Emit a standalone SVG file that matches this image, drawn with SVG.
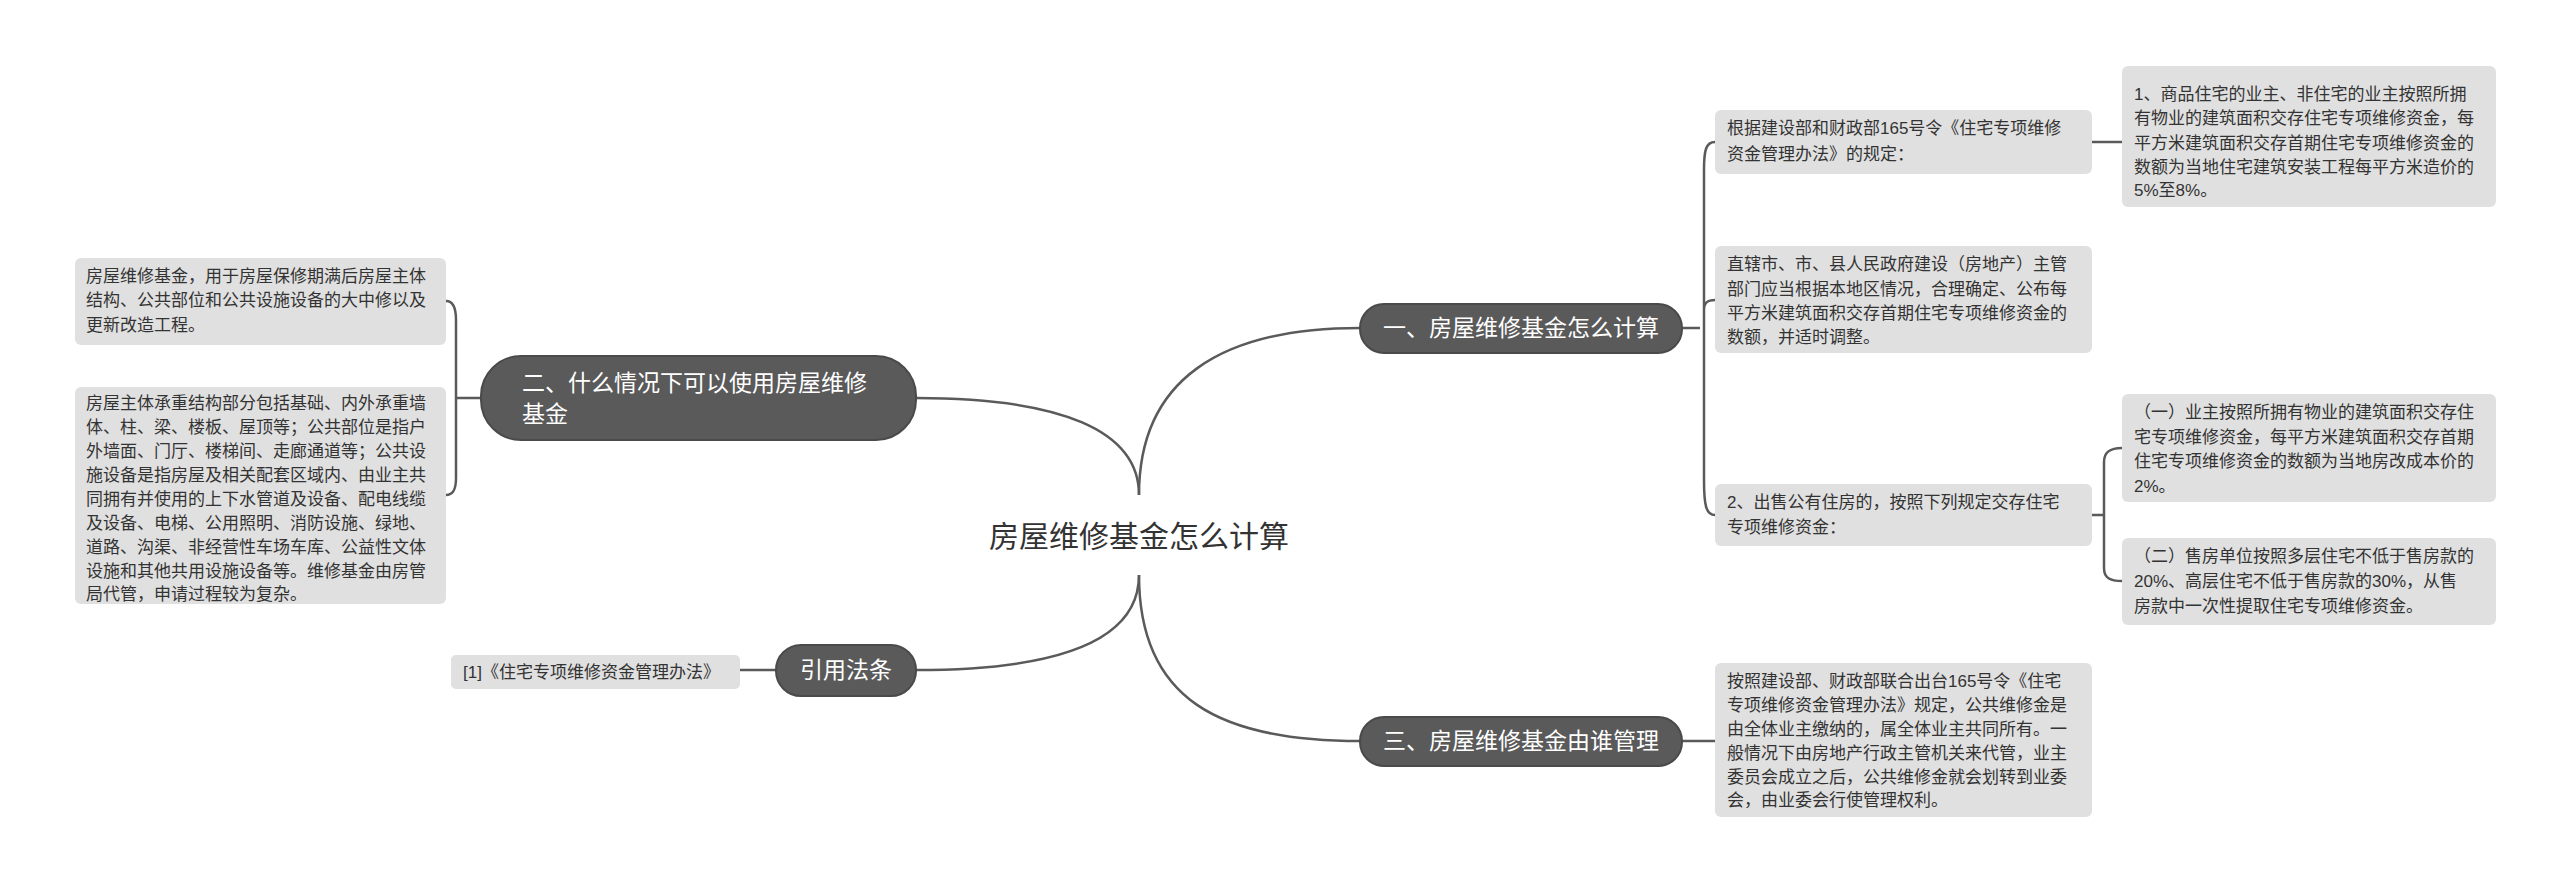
<svg xmlns="http://www.w3.org/2000/svg" width="2560" height="889" viewBox="0 0 2560 889">
<style>
text{font-family:"Liberation Sans","Noto Sans CJK SC",sans-serif;}
.leaf{fill:#e0e0e0;}
.lt{font-size:17px;fill:#333;}
.pill{fill:#5a5a5a;stroke:#4a4a4a;stroke-width:2;}
.pt{font-size:23px;fill:#fff;}
.c{fill:none;stroke:#5a5a5a;stroke-width:2.5;}
</style>
<rect width="2560" height="889" fill="#fff"/>
<g id="connectors">
<path class="c" d="M1139,495 C1139,380 1220,328 1360,328"/>
<path class="c" d="M1139,575 C1139,700 1220,741 1360,741"/>
<path class="c" d="M1139,495 C1139,430 1060,398 916,398"/>
<path class="c" d="M1139,575 C1139,640 1060,670 916,670"/>
<path class="c" d="M1682,328 L1700,328 M1715,142 C1706,142 1704,150 1704,170 L1704,480 C1704,505 1706,515 1715,515 M1704,310 C1704,302 1708,300 1715,300"/>
<path class="c" d="M2092,142 L2122,142"/>
<path class="c" d="M2092,515 L2104,515 M2122,448 C2110,448 2104,452 2104,462 L2104,568 C2104,578 2110,581 2122,581"/>
<path class="c" d="M1682,741 L1715,741"/>
<path class="c" d="M481,398 L456,398 M446,301 C453,301 456,308 456,320 L456,478 C456,490 453,495 446,495"/>
<path class="c" d="M776,670 L740,670"/>
</g>
<g id="root"><text x="1139" y="547" font-size="30" fill="#333" text-anchor="middle">房屋维修基金怎么计算</text></g>
<g id="b1"><rect class="pill" x="1360" y="304" width="322" height="49" rx="24"/><text class="pt" x="1521" y="336" text-anchor="middle">一、房屋维修基金怎么计算</text></g>
<g id="b3"><rect class="pill" x="1360" y="717" width="322" height="49" rx="24"/><text class="pt" x="1521" y="749" text-anchor="middle">三、房屋维修基金由谁管理</text></g>
<g id="b2"><rect class="pill" x="481" y="356" width="435" height="84" rx="40"/><text class="pt" x="522" y="391">二、什么情况下可以使用房屋维修</text><text class="pt" x="522" y="422">基金</text></g>
<g id="b4"><rect class="pill" x="776" y="645" width="140" height="51" rx="25"/><text class="pt" x="846" y="678" text-anchor="middle">引用法条</text></g>
<g id="n1"><rect class="leaf" x="1715" y="110" width="377" height="64" rx="6"/><text class="lt" x="1727"><tspan x="1727" y="134">根据建设部和财政部165号令《住宅专项维修</tspan><tspan x="1727" y="160">资金管理办法》的规定：</tspan></text></g>
<g id="n1a"><rect class="leaf" x="2122" y="66" width="374" height="141" rx="6"/><text class="lt"><tspan x="2134" y="100">1、商品住宅的业主、非住宅的业主按照所拥</tspan><tspan x="2134" y="124">有物业的建筑面积交存住宅专项维修资金，每</tspan><tspan x="2134" y="149">平方米建筑面积交存首期住宅专项维修资金的</tspan><tspan x="2134" y="173">数额为当地住宅建筑安装工程每平方米造价的</tspan><tspan x="2134" y="196">5%至8%。</tspan></text></g>
<g id="n2"><rect class="leaf" x="1715" y="246" width="377" height="107" rx="6"/><text class="lt"><tspan x="1727" y="270">直辖市、市、县人民政府建设（房地产）主管</tspan><tspan x="1727" y="295">部门应当根据本地区情况，合理确定、公布每</tspan><tspan x="1727" y="319">平方米建筑面积交存首期住宅专项维修资金的</tspan><tspan x="1727" y="343">数额，并适时调整。</tspan></text></g>
<g id="n3"><rect class="leaf" x="1715" y="484" width="377" height="62" rx="6"/><text class="lt"><tspan x="1727" y="508">2、出售公有住房的，按照下列规定交存住宅</tspan><tspan x="1727" y="533">专项维修资金：</tspan></text></g>
<g id="n3a"><rect class="leaf" x="2122" y="394" width="374" height="108" rx="6"/><text class="lt"><tspan x="2134" y="418">（一）业主按照所拥有物业的建筑面积交存住</tspan><tspan x="2134" y="443">宅专项维修资金，每平方米建筑面积交存首期</tspan><tspan x="2134" y="467">住宅专项维修资金的数额为当地房改成本价的</tspan><tspan x="2134" y="492">2%。</tspan></text></g>
<g id="n3b"><rect class="leaf" x="2122" y="538" width="374" height="87" rx="6"/><text class="lt"><tspan x="2134" y="562">（二）售房单位按照多层住宅不低于售房款的</tspan><tspan x="2134" y="587">20%、高层住宅不低于售房款的30%，从售</tspan><tspan x="2134" y="612">房款中一次性提取住宅专项维修资金。</tspan></text></g>
<g id="n4"><rect class="leaf" x="1715" y="663" width="377" height="154" rx="6"/><text class="lt"><tspan x="1727" y="687">按照建设部、财政部联合出台165号令《住宅</tspan><tspan x="1727" y="711">专项维修资金管理办法》规定，公共维修金是</tspan><tspan x="1727" y="735">由全体业主缴纳的，属全体业主共同所有。一</tspan><tspan x="1727" y="759">般情况下由房地产行政主管机关来代管，业主</tspan><tspan x="1727" y="783">委员会成立之后，公共维修金就会划转到业委</tspan><tspan x="1727" y="806">会，由业委会行使管理权利。</tspan></text></g>
<g id="n5"><rect class="leaf" x="75" y="258" width="371" height="87" rx="6"/><text class="lt"><tspan x="86" y="282">房屋维修基金，用于房屋保修期满后房屋主体</tspan><tspan x="86" y="306">结构、公共部位和公共设施设备的大中修以及</tspan><tspan x="86" y="331">更新改造工程。</tspan></text></g>
<g id="n6"><rect class="leaf" x="75" y="387" width="371" height="217" rx="6"/><text class="lt"><tspan x="86" y="409">房屋主体承重结构部分包括基础、内外承重墙</tspan><tspan x="86" y="433">体、柱、梁、楼板、屋顶等；公共部位是指户</tspan><tspan x="86" y="457">外墙面、门厅、楼梯间、走廊通道等；公共设</tspan><tspan x="86" y="481">施设备是指房屋及相关配套区域内、由业主共</tspan><tspan x="86" y="505">同拥有并使用的上下水管道及设备、配电线缆</tspan><tspan x="86" y="529">及设备、电梯、公用照明、消防设施、绿地、</tspan><tspan x="86" y="553">道路、沟渠、非经营性车场车库、公益性文体</tspan><tspan x="86" y="577">设施和其他共用设施设备等。维修基金由房管</tspan><tspan x="86" y="600">局代管，申请过程较为复杂。</tspan></text></g>
<g id="n7"><rect class="leaf" x="451" y="655" width="289" height="34" rx="5"/><text class="lt" x="463" y="678">[1]《住宅专项维修资金管理办法》</text></g>
</svg>
